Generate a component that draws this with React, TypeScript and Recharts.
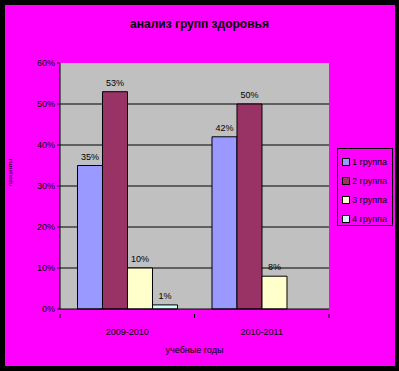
import { BarChart, Bar, XAxis, YAxis, CartesianGrid, LabelList } from 'recharts';

const years = ['2009-2010', '2010-2011'];
const group1 = [35, 42];
const group2 = [53, 50];
const group3 = [10, 8];
const group4: (number | null)[] = [1, null];
const yTicks = [0, 10, 20, 30, 40, 50, 60];

const seriesNames = ['1 группа', '2 группа', '3 группа', '4 группа'];
const seriesColors = ['#9999FF', '#993366', '#FFFFCC', '#CCFFFF'];

const data = years.map((year, i) => ({
  year,
  g1: group1[i],
  g2: group2[i],
  g3: group3[i],
  g4: group4[i],
}));

const font = 'Arial, "Liberation Sans", sans-serif';

// category axis in Excel style: ticks on the band edges, label in the middle
const YearTick = (props: any) => {
  const { x, y, payload, index, width } = props;
  const band = (width || 269) / years.length;
  const left = x - band / 2;
  return (
    <g>
      <line x1={left} y1={y - 3} x2={left} y2={y + 1} stroke="#000" />
      {index === years.length - 1 && (
        <line x1={left + band} y1={y - 3} x2={left + band} y2={y + 1} stroke="#000" />
      )}
      <text x={x} y={y + 18} textAnchor="middle" fontSize={9} fontFamily={font} fill="#000">
        {payload.value}
      </text>
    </g>
  );
};

// legend drawn as a plain box so it doesn't eat into the plot width
const LegendBox = () => (
  <div
    style={{
      position: 'absolute',
      left: 337,
      top: 148,
      width: 54,
      height: 73,
      border: '1px solid #000',
      paddingTop: 3,
      fontFamily: font,
      fontSize: 9,
    }}
  >
    {seriesNames.map((name, i) => (
      <div key={name} style={{ display: 'flex', alignItems: 'center', height: 19, paddingLeft: 4 }}>
        <span
          style={{
            display: 'inline-block',
            width: 6,
            height: 6,
            border: '1px solid #000',
            background: seriesColors[i],
            marginRight: 2,
          }}
        />
        <span>{name}</span>
      </div>
    ))}
  </div>
);

const pct = (v: any) => (v == null ? '' : `${v}%`);

export default function App() {
  return (
    <div style={{ position: 'fixed', left: 0, top: 0, width: 399, height: 371, background: '#000' }}>
      <div style={{ position: 'absolute', left: 5, top: 5, width: 390, height: 361, background: '#FF00FF' }} />
      <div
        style={{
          position: 'absolute',
          left: 0,
          top: 17,
          width: 399,
          textAlign: 'center',
          fontFamily: font,
          fontWeight: 'bold',
          fontSize: 12,
        }}
      >
        анализ групп здоровья
      </div>
      <div style={{ position: 'absolute', left: 0, top: 0 }}>
        <BarChart
          width={399}
          height={371}
          data={data}
          margin={{ top: 63, right: 70, left: 0, bottom: 0 }}
          barGap={0}
          barCategoryGap="13%"
        >
          <CartesianGrid
            vertical={false}
            horizontalValues={[10, 20, 30, 40, 50]}
            stroke="#000"
            fill="#C0C0C0"
            fillOpacity={1}
          />
          <XAxis
            dataKey="year"
            height={62}
            axisLine={{ stroke: '#000' }}
            tickLine={false}
            tick={<YearTick />}
            interval={0}
            label={{
              value: 'учебные годы',
              position: 'insideBottom',
              offset: 18,
              fontSize: 9,
              fontFamily: font,
              fill: '#000',
            }}
          />
          <YAxis
            width={60}
            domain={[0, 60]}
            ticks={yTicks}
            interval={0}
            axisLine={{ stroke: '#000' }}
            tickLine={{ stroke: '#000' }}
            tickSize={3}
            tickFormatter={(v) => `${v}%`}
            tick={{ fontSize: 9, fontFamily: font, fill: '#000' }}
            label={{
              value: 'проценты',
              angle: -90,
              position: 'insideLeft',
              offset: 10,
              fontSize: 6,
              fontFamily: font,
              fill: '#000',
            }}
          />
          {['g1', 'g2', 'g3', 'g4'].map((key, i) => (
            <Bar
              key={key}
              dataKey={key}
              name={seriesNames[i]}
              fill={seriesColors[i]}
              stroke="#000"
              strokeWidth={1}
              isAnimationActive={false}
            >
              <LabelList
                dataKey={key}
                position="top"
                offset={6}
                formatter={pct}
                style={{ fontSize: 9, fontFamily: font, fill: '#000' }}
              />
            </Bar>
          ))}
        </BarChart>
      </div>
      <LegendBox />
    </div>
  );
}
